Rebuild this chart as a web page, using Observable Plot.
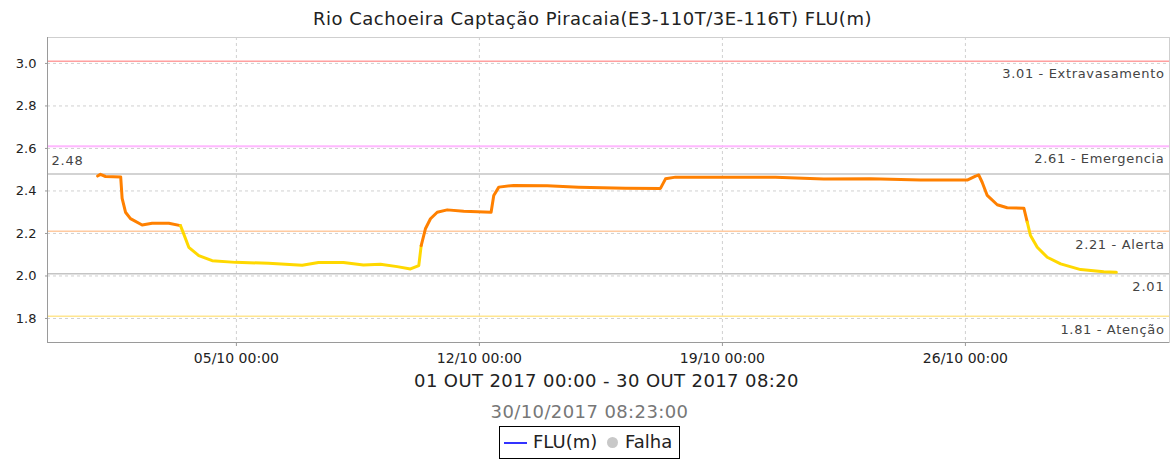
<!DOCTYPE html>
<html>
<head>
<meta charset="utf-8">
<script src="https://cdn.jsdelivr.net/npm/d3@7"></script>
<script src="https://cdn.jsdelivr.net/npm/@observablehq/plot@0.6"></script>
<style>
  html, body { margin: 0; padding: 0; background: #fff; }
  #wrap { position: relative; width: 1173px; height: 460px; overflow: hidden; font-family: "DejaVu Sans", sans-serif; }
  #title { position: absolute; left: 0; width: 1185px; top: 8px; text-align: center; font-family: "DejaVu Sans", sans-serif; font-size: 18px; letter-spacing: 0.5px; color: #222; }
  #chart { position: absolute; left: 0; top: 0; }
  #range { position: absolute; left: 0; width: 1213px; top: 370px; text-align: center; font-size: 18px; letter-spacing: 0.4px; color: #222; }
  #stamp { position: absolute; left: 0; width: 1179px; top: 401px; text-align: center; font-size: 18px; letter-spacing: 0.4px; color: #777; }
  #legend { position: absolute; left: 499px; top: 426px; width: 181px; height: 33px; border: 1px solid #000; box-sizing: border-box; font-size: 18px; color: #222; }
  #legend .ln { position: absolute; left: 4px; top: 15px; width: 23px; height: 2px; background: #3333ff; }
  #legend .t1 { position: absolute; left: 33px; top: 4px; }
  #legend .dot { position: absolute; left: 107px; top: 10px; width: 11px; height: 11px; border-radius: 50%; background: #c8c8c8; }
  #legend .t2 { position: absolute; left: 125px; top: 4px; }
</style>
</head>
<body>
<div id="wrap">
  <div id="title"></div>
  <div id="chart"></div>
  <div id="range"></div>
  <div id="stamp"></div>
  <div id="legend"><div class="ln"></div><div class="t1">FLU(m)</div><div class="dot"></div><div class="t2">Falha</div></div>
</div>
<script>
const titleText = "Rio Cachoeira Captação Piracaia(E3-110T/3E-116T) FLU(m)";
const rangeText = "01 OUT 2017 00:00 - 30 OUT 2017 08:20";
const stampText = "30/10/2017 08:23:00";

const times = [
  "2017-10-01 00:00","2017-10-01 02:00","2017-10-01 05:30","2017-10-01 16:00","2017-10-01 17:00",
  "2017-10-01 19:20","2017-10-01 22:45","2017-10-02 06:50","2017-10-02 13:45","2017-10-03 01:15",
  "2017-10-03 09:20","2017-10-03 11:10","2017-10-03 15:05","2017-10-03 22:00","2017-10-04 07:15",
  "2017-10-04 23:20","2017-10-05 22:10","2017-10-06 21:30","2017-10-07 08:45","2017-10-08 02:00",
  "2017-10-08 15:50","2017-10-09 03:35","2017-10-09 15:10","2017-10-10 00:20","2017-10-10 06:05",
  "2017-10-10 07:45","2017-10-10 10:40","2017-10-10 14:10","2017-10-10 18:50","2017-10-11 01:45",
  "2017-10-11 13:10","2017-10-12 08:05","2017-10-12 09:55","2017-10-12 13:25","2017-10-12 23:45",
  "2017-10-13 22:55","2017-10-14 20:40","2017-10-16 05:00","2017-10-17 05:10","2017-10-17 08:40",
  "2017-10-17 15:35","2017-10-19 02:10","2017-10-20 12:45","2017-10-21 22:05","2017-10-23 06:25",
  "2017-10-24 17:00","2017-10-26 01:15","2017-10-26 07:00","2017-10-26 09:15","2017-10-26 11:35",
  "2017-10-26 15:05","2017-10-26 22:00","2017-10-27 04:55","2017-10-27 16:25","2017-10-27 18:45",
  "2017-10-27 21:00","2017-10-28 01:40","2017-10-28 08:35","2017-10-28 17:50","2017-10-29 07:40",
  "2017-10-29 23:40","2017-10-30 08:20"
];
const values = [
  2.470,2.478,2.468,2.466,2.365,
  2.300,2.270,2.240,2.248,2.248,
  2.237,2.205,2.135,2.096,2.072,
  2.064,2.060,2.050,2.063,2.063,
  2.052,2.055,2.044,2.033,2.049,
  2.143,2.222,2.269,2.300,2.311,
  2.305,2.300,2.379,2.418,2.426,
  2.424,2.418,2.413,2.412,2.457,
  2.465,2.465,2.464,2.456,2.457,
  2.451,2.451,2.470,2.475,2.441,
  2.379,2.335,2.321,2.319,2.253,
  2.190,2.135,2.088,2.057,2.030,
  2.020,2.017
];

const limitValues = [3.01, 2.61, 2.21, 1.81];
const limitNames = ["Extravasamento", "Emergencia", "Alerta", "Atenção"];
const maxValue = 2.48;
const minValue = 2.01;
const yTicks = [1.8, 2.0, 2.2, 2.4, 2.6, 2.8, 3.0];
const xTicks = ["2017-10-05 00:00", "2017-10-12 00:00", "2017-10-19 00:00", "2017-10-26 00:00"];
const xDomain = ["2017-09-29 13:24", "2017-10-31 21:06"];
const yDomain = [1.687, 3.122];

// styles
const limitColors = ["#ff9f9f", "#ffb8ff", "#ffcaa0", "#ffe690"];
const limitWidths = [1.5, 2, 1.5, 1.5];
const ORANGE = "#ff8000", YELLOW = "#ffd800";

document.getElementById("title").textContent = titleText;
document.getElementById("range").textContent = rangeText;
document.getElementById("stamp").textContent = stampText;

const parse = d3.timeParse("%Y-%m-%d %H:%M");
const alertLevel = limitValues[2];

// split series into colour runs (orange above alert level, yellow below)
const rows = [];
let seg = 0, prev = null;
times.forEach((t, i) => {
  const c = values[i] >= alertLevel ? ORANGE : YELLOW;
  if (prev !== null && c !== prev) {
    seg++;
    rows.push({t: parse(times[i - 1]), v: values[i - 1], seg, c});
  }
  rows.push({t: parse(t), v: values[i], seg, c});
  prev = c;
});

const limits = limitValues.map((v, i) => ({v, label: `${v.toFixed(2)} - ${limitNames[i]}`, color: limitColors[i], w: limitWidths[i]}));
const refs = [maxValue, minValue];

const xt = xTicks.map(parse);

const chart = Plot.plot({
  width: 1173,
  height: 370,
  marginTop: 37,
  marginBottom: 28,
  marginLeft: 47,
  marginRight: 4,
  style: {fontFamily: "DejaVu Sans, sans-serif", background: "transparent", overflow: "visible"},
  x: {type: "time", domain: xDomain.map(parse)},
  y: {domain: yDomain},
  marks: [
    Plot.gridX(xt, {stroke: "#d0d0d0", strokeOpacity: 1, strokeDasharray: "3,3"}),
    Plot.gridY(yTicks, {stroke: "#d0d0d0", strokeOpacity: 1, strokeDasharray: "3,3"}),
    ...limits.map(d => Plot.ruleY([d.v], {stroke: d.color, strokeWidth: d.w})),
    Plot.ruleY(refs, {stroke: "#c4c4c4", strokeWidth: 1.5}),
    Plot.text(limits, {y: "v", text: "label", frameAnchor: "right", textAnchor: "end", dx: -5, dy: 13, fontSize: 13, fill: "#444"}),
    Plot.text([minValue], {y: d => d, text: d => d.toFixed(2), frameAnchor: "right", textAnchor: "end", dx: -5, dy: 13, fontSize: 13, fill: "#444"}),
    Plot.text([maxValue], {y: d => d, text: d => d.toFixed(2), frameAnchor: "left", textAnchor: "start", dx: 4, dy: -13, fontSize: 13, fill: "#444"}),
    Plot.line(rows, {x: "t", y: "v", z: "seg", stroke: "c", strokeWidth: 3, strokeLinejoin: "round", curve: "linear"}),
    Plot.frame({stroke: "#cfcfcf"}),
    Plot.ruleX([xDomain[0]].map(parse), {stroke: "#9a9a9a"}),
    Plot.ruleY([yDomain[0]], {stroke: "#9a9a9a"}),
    Plot.axisY({ticks: yTicks, tickFormat: d => d.toFixed(1), tickSize: 2, tickPadding: 9, fontSize: 13, label: null, stroke: "#9a9a9a", color: "#222"}),
    Plot.axisX({ticks: xt, tickFormat: d3.timeFormat("%d/%m %H:%M"), tickSize: 4, tickPadding: 7, fontSize: 14, label: null, stroke: "#9a9a9a", color: "#222"})
  ]
});
// letter spacing for the in-plot reference labels
d3.select(chart).selectAll('g[aria-label="text"] text').each(function() {
  const s = this.textContent;
  this.style.letterSpacing = s.length > 5 ? "0.65px" : "0.8px";
});
document.getElementById("chart").appendChild(chart);
</script>
</body>
</html>
